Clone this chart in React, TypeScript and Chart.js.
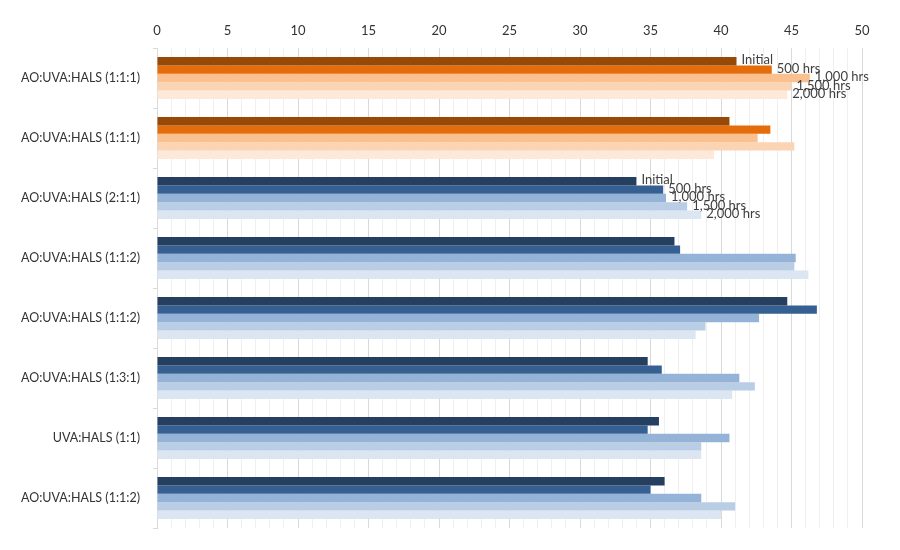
import React, { useEffect, useRef } from "react";
import { Chart, registerables } from "chart.js";

Chart.register(...registerables);

const categories = [
  "AO:UVA:HALS (1:1:1)",
  "AO:UVA:HALS (1:1:1)",
  "AO:UVA:HALS (2:1:1)",
  "AO:UVA:HALS (1:1:2)",
  "AO:UVA:HALS (1:1:2)",
  "AO:UVA:HALS (1:3:1)",
  "UVA:HALS (1:1)",
  "AO:UVA:HALS (1:1:2)",
];

const seriesNames = ["Initial", "500 hrs", "1,000 hrs", "1,500 hrs", "2,000 hrs"];

const initial = [41.1, 40.6, 34.0, 36.7, 44.7, 34.8, 35.6, 36.0];
const hrs500 = [43.6, 43.5, 35.9, 37.1, 46.8, 35.8, 34.8, 35.0];
const hrs1000 = [46.3, 42.6, 36.1, 45.3, 42.7, 41.3, 40.6, 38.6];
const hrs1500 = [45.0, 45.2, 37.6, 45.2, 38.9, 42.4, 38.6, 41.0];
const hrs2000 = [44.7, 39.5, 38.6, 46.2, 38.2, 40.8, 38.6, 40.0];

const xTickLabels = ["0", "5", "10", "15", "20", "25", "30", "35", "40", "45", "50"];

const orangeCategories = [0, 1];
const labeledCategories = [0, 2];

const orangePalette = ["#984807", "#E46C0A", "#FAC090", "#FBD4B4", "#FDE9D9"];
const bluePalette = ["#243F60", "#376092", "#95B3D7", "#B9CDE5", "#DCE6F2"];

export default function App() {
  const canvasRef = useRef<HTMLCanvasElement | null>(null);

  useEffect(() => {
    const canvas = canvasRef.current;
    if (!canvas) return;
    const values = [initial, hrs500, hrs1000, hrs1500, hrs2000];

    const datasets = values.map((data, si) => ({
      label: seriesNames[si],
      data,
      backgroundColor: categories.map((_, ci) =>
        orangeCategories.includes(ci) ? orangePalette[si] : bluePalette[si]
      ),
      borderWidth: 0,
      categoryPercentage: 0.7,
      barPercentage: 1.0,
    }));

    const labelPlugin = {
      id: "barLabels",
      afterDatasetsDraw(chart: any) {
        const ctx = chart.ctx;
        ctx.save();
        ctx.font = "13px Lato";
        ctx.fillStyle = "#404040";
        ctx.textAlign = "left";
        ctx.textBaseline = "middle";
        chart.data.datasets.forEach((ds: any, si: number) => {
          const meta = chart.getDatasetMeta(si);
          labeledCategories.forEach((ci) => {
            const el = meta.data[ci];
            if (!el) return;
            ctx.fillText(ds.label, el.x + 5, el.y - 1);
          });
        });
        ctx.restore();
      },
    };

    const chart = new Chart(canvas, {
      type: "bar",
      data: { labels: categories, datasets },
      plugins: [labelPlugin],
      options: {
        indexAxis: "y",
        animation: false,
        responsive: false,
        layout: { padding: { left: 0, right: 38, top: 20, bottom: 22 } },
        plugins: {
          legend: { display: false },
          tooltip: { enabled: false },
        },
        scales: {
          x: {
            position: "top",
            min: 0,
            max: 50,
            afterFit(scale: any) {
              scale.height = 28;
            },
            ticks: {
              stepSize: 1,
              autoSkip: false,
              maxRotation: 0,
              padding: 9,
              color: "#333333",
              font: { family: "Lato", size: 13 },
              callback: (v: any) => {
                const n = Number(v);
                return n % 5 === 0 ? xTickLabels[n / 5] : "";
              },
            },
            grid: {
              color: (c: any) =>
                c.tick && c.tick.value % 5 === 0 ? "#d9d9d9" : "#efefef",
              drawTicks: false,
            },
            border: { display: false },
          },
          y: {
            afterFit(scale: any) {
              scale.width = 157;
            },
            ticks: {
              color: "#333333",
              padding: 13,
              font: { family: "Lato", size: 12.5 },
            },
            grid: {
              drawOnChartArea: false,
              drawTicks: true,
              tickLength: 4,
              offset: true,
              color: "#d9d9d9",
            },
            border: { display: true, color: "#d9d9d9" },
          },
        },
      },
    });

    return () => chart.destroy();
  }, []);

  return (
    <div style={{ position: "fixed", left: 0, top: 0, width: 900, height: 550, background: "#fff" }}>
      <canvas ref={canvasRef} width={900} height={550} />
    </div>
  );
}
